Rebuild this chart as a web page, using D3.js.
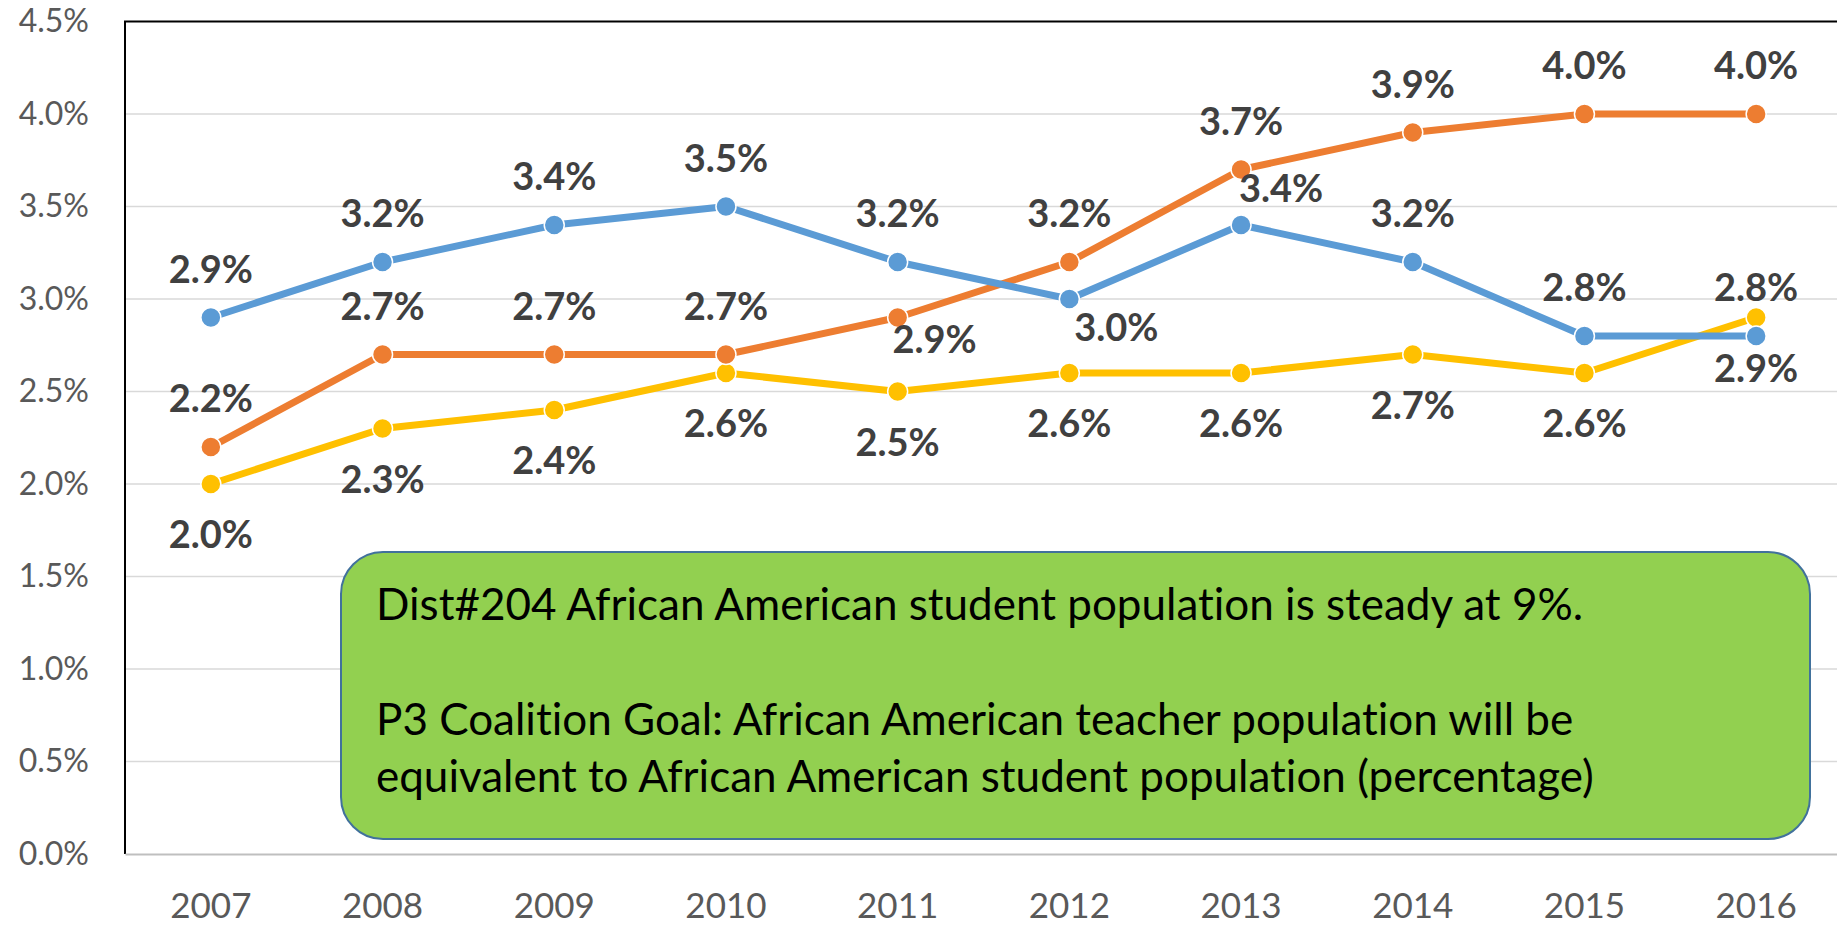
<!DOCTYPE html>
<html>
<head>
<meta charset="utf-8">
<script src="https://cdn.jsdelivr.net/npm/d3@7"></script>
<style>
  body { margin: 0; background: #fff; }
  svg { display: block; }
  svg text { font-family: Lato, "Open Sans", sans-serif; font-variant-ligatures: none; }
</style>
</head>
<body>
<svg id="chart" width="1837" height="927"></svg>
<script>
let years = ["2007", "2008", "2009", "2010", "2011", "2012", "2013", "2014", "2015", "2016"];

let blueValues   = [2.9, 3.2, 3.4, 3.5, 3.2, 3.0, 3.4, 3.2, 2.8, 2.8];
let orangeValues = [2.2, 2.7, 2.7, 2.7, 2.9, 3.2, 3.7, 3.9, 4.0, 4.0];
let yellowValues = [2.0, 2.3, 2.4, 2.6, 2.5, 2.6, 2.6, 2.7, 2.6, 2.9];

let yTicks = [0, 0.5, 1.0, 1.5, 2.0, 2.5, 3.0, 3.5, 4.0, 4.5];

let noteLines = [
  "Dist#204 African American student population is steady at 9%.",
  "",
  "P3 Coalition Goal: African American teacher population will be",
  "equivalent to African American student population (percentage)"
];

// label side per point: "a" = above, "b" = below
let series = [
  { name: "yellow", values: yellowValues, color: "#FFC000", labels: "bbbbbbbbbb" },
  { name: "orange", values: orangeValues, color: "#ED7D31", labels: "aaaabaaaaa" },
  { name: "blue",   values: blueValues,   color: "#5B9BD5", labels: "aaaaabaaaa" }
];

// a few labels were dragged by hand in the original, [dx, dy from point]
let labelNudge = {
  "orange-4": [37, 35],
  "blue-5": [47, 42],
  "blue-6": [40, -23]
};

let svg = d3.select("#chart");

let plotLeft = 125, plotTop = 21.5, plotBottom = 854, plotRight = 1842;

let x = d3.scaleBand()
          .domain(years)
          .range([plotLeft, plotRight]);
let cx = d => x(d) + x.bandwidth() / 2;

let y = d3.scaleLinear()
          .domain([0, 4.5])
          .range([plotBottom, plotTop]);

// grid lines
svg.append("g")
   .selectAll("line")
   .data(yTicks.filter(t => t > 0 && t < 4.5))
   .join("line")
   .attr("x1", plotLeft).attr("x2", plotRight)
   .attr("y1", d => y(d)).attr("y2", d => y(d))
   .attr("stroke", "#D9D9D9")
   .attr("stroke-width", 1.5);

// plot border (top + left black)
svg.append("path")
   .attr("d", `M${plotLeft},${plotBottom} V${plotTop} H${plotRight}`)
   .attr("fill", "none")
   .attr("stroke", "#000")
   .attr("stroke-width", 2);

// x axis
let xAxis = d3.axisBottom(x).tickSize(0).tickPadding(0);
let gx = svg.append("g")
            .attr("transform", `translate(0, ${plotBottom})`)
            .call(xAxis);
gx.select(".domain").attr("stroke", "#BFBFBF").attr("stroke-width", 2);
gx.selectAll("text")
  .attr("y", 64)
  .attr("dy", null)
  .attr("fill", "#595959")
  .style("font-size", "35px");

// y axis
let yAxis = d3.axisLeft(y)
              .tickValues(yTicks)
              .tickSize(0)
              .tickPadding(0)
              .tickFormat(d => d.toFixed(1) + "%");
let gy = svg.append("g")
            .attr("transform", "translate(89, 0)")
            .call(yAxis);
gy.select(".domain").remove();
gy.selectAll("text")
  .attr("fill", "#595959")
  .style("font-size", "32px");

// lines
let line = d3.line()
             .x((d, i) => cx(years[i]))
             .y(d => y(d));

series.forEach(s => {
  svg.append("path")
     .attr("d", line(s.values))
     .attr("fill", "none")
     .attr("stroke", s.color)
     .attr("stroke-width", 7)
     .attr("stroke-linejoin", "round");
});

series.forEach(s => {
  svg.append("g")
     .selectAll("circle")
     .data(s.values)
     .join("circle")
     .attr("cx", (d, i) => cx(years[i]))
     .attr("cy", d => y(d))
     .attr("r", 10)
     .attr("fill", s.color)
     .attr("stroke", "#fff")
     .attr("stroke-width", 1.5);
});

// data labels
series.forEach(s => {
  svg.append("g")
     .selectAll("text")
     .data(s.values)
     .join("text")
     .attr("x", (d, i) => {
        let n = labelNudge[s.name + "-" + i];
        return cx(years[i]) + (n ? n[0] : 0);
     })
     .attr("y", (d, i) => {
        let n = labelNudge[s.name + "-" + i];
        if (n) return y(d) + n[1];
        return s.labels[i] == "a" ? y(d) - 35 : y(d) + 64;
     })
     .attr("text-anchor", "middle")
     .attr("fill", "#404040")
     .style("font-size", "38px")
     .style("font-weight", "bold")
     .text(d => d.toFixed(1) + "%");
});

// note box
let note = svg.append("g");
note.append("rect")
    .attr("x", 341).attr("y", 552)
    .attr("width", 1469).attr("height", 287)
    .attr("rx", 42).attr("ry", 42)
    .attr("fill", "#92D050")
    .attr("stroke", "#41719C")
    .attr("stroke-width", 2);

note.append("g")
    .selectAll("text")
    .data(noteLines)
    .join("text")
    .attr("x", 376)
    .attr("y", (d, i) => 620 + i * 57.3)
    .attr("fill", "#000")
    .style("font-size", "44px")
    .text(d => d);
</script>
</body>
</html>
